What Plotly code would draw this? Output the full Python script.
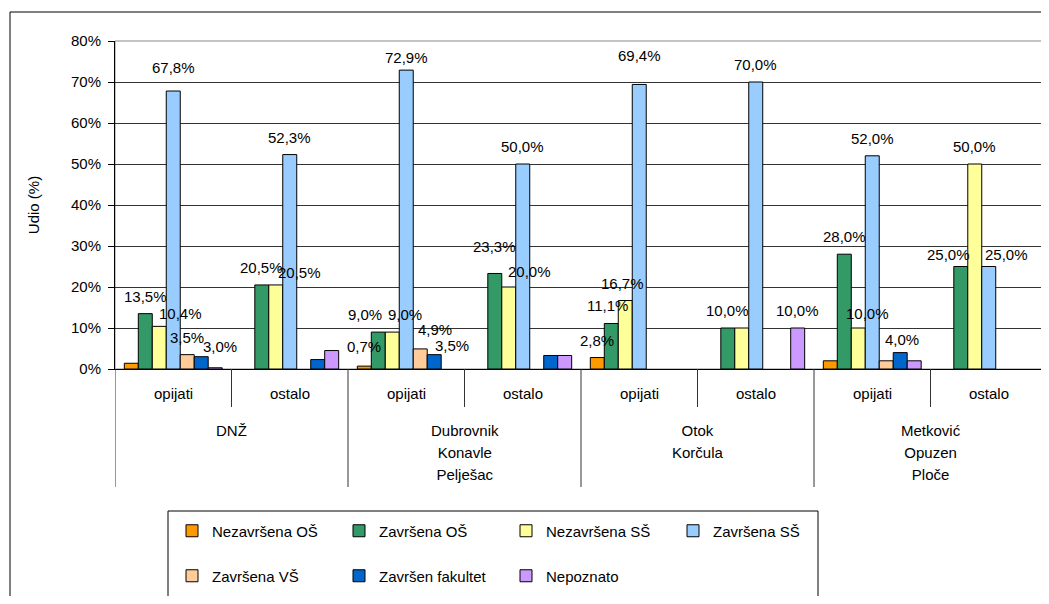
import plotly.graph_objects as go

# ---- data ----
categories = ["opijati", "ostalo", "opijati", "ostalo", "opijati", "ostalo", "opijati", "ostalo"]
regions = ["DNŽ", "Dubrovnik<br>Konavle<br>Pelješac", "Otok<br>Korčula", "Metković<br>Opuzen<br>Ploče"]

series_names = ["Nezavršena OŠ", "Završena OŠ", "Nezavršena SŠ", "Završena SŠ",
                "Završena VŠ", "Završen fakultet", "Nepoznato"]

nezavrsena_os = [1.4, 0, 0.7, 0, 2.8, 0, 2.0, 0]
zavrsena_os = [13.5, 20.5, 9.0, 23.3, 11.1, 10.0, 28.0, 25.0]
nezavrsena_ss = [10.4, 20.5, 9.0, 20.0, 16.7, 10.0, 10.0, 50.0]
zavrsena_ss = [67.8, 52.3, 72.9, 50.0, 69.4, 70.0, 52.0, 25.0]
zavrsena_vs = [3.5, 0, 4.9, 0, 0, 0, 2.0, 0]
zavrsen_fakultet = [3.0, 2.3, 3.5, 3.3, 0, 0, 4.0, 0]
nepoznato = [0.3, 4.5, 0, 3.3, 0, 10.0, 2.0, 0]

# which data labels are shown in the original chart
show_nezavrsena_os = [0, 0, 1, 0, 1, 0, 0, 0]
show_zavrsena_os = [1, 1, 1, 1, 1, 1, 1, 1]
show_nezavrsena_ss = [1, 1, 1, 1, 1, 0, 1, 1]
show_zavrsena_ss = [1, 1, 1, 1, 1, 1, 1, 1]
show_zavrsena_vs = [1, 0, 1, 0, 0, 0, 0, 0]
show_zavrsen_fakultet = [1, 0, 1, 0, 0, 0, 1, 0]
show_nepoznato = [0, 0, 0, 0, 0, 1, 0, 0]

y_ticks = [0, 10, 20, 30, 40, 50, 60, 70, 80]
y_ticktext = [f"{t}%" for t in y_ticks]

series_values = [nezavrsena_os, zavrsena_os, nezavrsena_ss, zavrsena_ss,
                 zavrsena_vs, zavrsen_fakultet, nepoznato]
series_show = [show_nezavrsena_os, show_zavrsena_os, show_nezavrsena_ss, show_zavrsena_ss,
               show_zavrsena_vs, show_zavrsen_fakultet, show_nepoznato]

# ---- styles ----
colors = ["#FF9900", "#339966", "#FFFF99", "#99CCFF", "#FFCC99", "#0066CC", "#CC99FF"]
# pixel nudges of individual data labels (series, category) as placed in the original
label_dx = {(2, 0): 21, (5, 0): 19, (2, 1): 24, (1, 2): -13, (2, 2): 13, (4, 2): 15,
            (5, 2): 18, (2, 3): 21, (1, 4): -4, (2, 4): -3, (2, 6): 9, (5, 6): 2,
            (1, 7): -12, (3, 7): 18}
label_dy = {(2, 0): 13, (5, 0): 10, (2, 1): 12, (0, 2): 20, (4, 2): 19, (5, 2): 9, (1, 3): 27,
            (2, 3): 16, (3, 0): 24, (3, 2): 13, (3, 4): 29, (2, 6): 15, (1, 7): 12.5,
            (3, 7): 12.5, (5, 6): 13.5}
DEFAULT_DY = 17.5

FONT = "Liberation Sans, Arial, sans-serif"
FS = 15
OFF = 8  # page body margin of the html page

# plot area in page pixels of the reference
PL, PR, PT, PB = 115, 1047, 41, 369
W, H = 1049 - OFF, 604 - 2 * OFF
pw, ph = PR - PL, PB - PT


def px_x(p):
    return (p - PL) / pw


def px_y(p):
    return (PB - p) / ph


fig = go.Figure()
n = len(series_names)
bw = 0.12
for j, (name, vals, show, col) in enumerate(zip(series_names, series_values, series_show, colors)):
    xs = [i + (j - (n - 1) / 2) * bw for i in range(len(categories))]
    fig.add_trace(go.Bar(
        x=xs, y=[v if v else None for v in vals], width=bw, name=name,
        marker=dict(color=col, line=dict(color="black", width=1)),
        legend="legend" if j < 4 else "legend2",
        hoverinfo="skip",
    ))
    for i, (x, v, s) in enumerate(zip(xs, vals, show)):
        if not s:
            continue
        fig.add_annotation(
            x=x, y=v, xref="x", yref="y",
            text=f"{v:.1f}".replace(".", ",") + "%",
            showarrow=False, xanchor="center", yanchor="middle",
            xshift=label_dx.get((j, i), 0), yshift=label_dy.get((j, i), DEFAULT_DY),
            font=dict(family=FONT, size=FS, color="black"),
        )

# plot area border (grey)
fig.add_shape(type="rect", xref="paper", yref="paper", x0=0, x1=1, y0=0, y1=1,
              line=dict(color="#888888", width=1), layer="below")
# outer chart border
fig.add_shape(type="rect", xref="paper", yref="paper", x0=px_x(10), x1=px_x(1070),
              y0=px_y(640), y1=px_y(12), line=dict(color="black", width=1))

# category table separators
for b in [-0.5, 1.5, 3.5, 5.5, 7.5]:
    fig.add_shape(type="line", xref="x", yref="paper", x0=b, x1=b, y0=0, y1=px_y(487),
                  line=dict(color="#333333", width=1))
for b in [0.5, 2.5, 4.5, 6.5]:
    fig.add_shape(type="line", xref="x", yref="paper", x0=b, x1=b, y0=0, y1=px_y(407),
                  line=dict(color="#333333", width=1))

for i, c in enumerate(categories):
    fig.add_annotation(x=i, y=px_y(393), xref="x", yref="paper", text=c, showarrow=False,
                       yanchor="middle", font=dict(family=FONT, size=FS, color="black"))
for k, r in enumerate(regions):
    lines = r.split("<br>")
    txt = "<br>".join(f"<span style='font-size:{FS}px'>{ln}</span>" for ln in lines)
    fig.add_annotation(x=2 * k + 0.5, y=px_y(420), xref="x", yref="paper",
                       text=txt, showarrow=False, yanchor="top", align="center",
                       font=dict(family=FONT, size=17, color="black"))

# legend box
fig.add_shape(type="rect", xref="paper", yref="paper",
              x0=px_x(168), x1=px_x(818), y0=px_y(598), y1=px_y(511),
              line=dict(color="black", width=1))

leg_common = dict(orientation="h", xanchor="left", yanchor="middle",
                  entrywidth=122, entrywidthmode="pixels",
                  font=dict(family=FONT, size=FS, color="black"),
                  bgcolor="rgba(0,0,0,0)", borderwidth=0, traceorder="normal")

fig.update_layout(
    width=W, height=H,
    margin=dict(l=PL - OFF, r=W - (PR - OFF), t=PT - OFF, b=H - (PB - OFF), autoexpand=False),
    paper_bgcolor="white", plot_bgcolor="white",
    barmode="overlay",
    showlegend=True,
    legend=dict(x=px_x(172), y=px_y(531), **leg_common),
    legend2=dict(x=px_x(172), y=px_y(576), **leg_common),
    font=dict(family=FONT, size=FS, color="black"),
    xaxis=dict(range=[-0.5, 7.5], showticklabels=False, showgrid=False, zeroline=False,
               showline=True, linecolor="black", linewidth=1, ticks="", automargin=False),
    yaxis=dict(range=[0, 80], tickmode="array", tickvals=y_ticks, ticktext=y_ticktext,
               showgrid=True, gridcolor="#333333", gridwidth=1, zeroline=False,
               showline=True, linecolor="black", linewidth=1,
               ticks="outside", ticklen=6, tickcolor="black", ticklabelstandoff=4,
               automargin=False,
               title=dict(text="Udio (%)", standoff=27, font=dict(family=FONT, size=FS))),
)

fig.write_html("out.html")
